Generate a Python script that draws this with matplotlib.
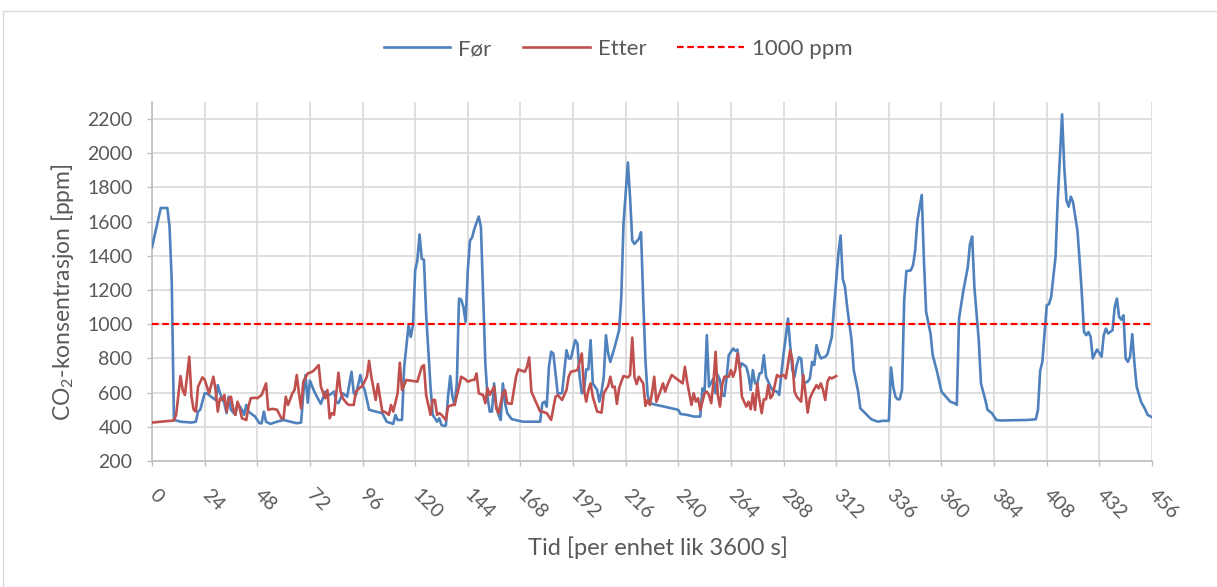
import matplotlib.pyplot as plt
from matplotlib.patches import Rectangle

# Hourly CO2 readings (hour index, ppm) before and after the change
for_hours = [
    0, 4, 7, 8, 9, 10, 11, 13, 18, 20, 21, 22,
    24, 25, 27, 29, 30, 31, 33, 34, 35, 36, 38, 39,
    41, 42, 43, 44, 47, 49, 50, 51, 52, 54, 57, 60,
    63, 66, 68, 69, 70, 71, 72, 74, 76, 77, 79, 81,
    83, 84, 85, 87, 89, 91, 92, 93, 95, 96, 97, 99,
    102, 105, 107, 110, 111, 112, 114, 115, 117, 118, 119, 120,
    121, 122, 123, 124, 125, 127, 128, 129, 130, 131, 132, 133,
    134, 135, 136, 137, 138, 139, 140, 141, 142, 143, 144, 145,
    146, 147, 149, 150, 152, 153, 154, 155, 156, 157, 158, 159,
    160, 161, 162, 164, 169, 177, 178, 179, 180, 181, 182, 183,
    185, 187, 189, 190, 191, 193, 194, 195, 196, 197, 198, 199,
    200, 201, 202, 203, 204, 205, 206, 207, 208, 209, 211, 212,
    213, 214, 215, 217, 218, 219, 220, 222, 223, 224, 225, 226,
    227, 230, 235, 240, 241, 244, 247, 250, 251, 252, 253, 254,
    256, 257, 258, 259, 260, 261, 262, 263, 265, 266, 267, 268,
    269, 271, 272, 273, 274, 275, 276, 277, 278, 279, 280, 282,
    283, 285, 286, 287, 288, 289, 290, 291, 292, 293, 294, 295,
    296, 297, 299, 300, 301, 302, 303, 304, 305, 307, 308, 310,
    311, 313, 314, 315, 316, 317, 319, 320, 322, 323, 326, 328,
    331, 333, 336, 337, 338, 339, 340, 341, 342, 343, 344, 346,
    347, 348, 349, 351, 352, 353, 355, 356, 358, 360, 362, 364,
    366, 367, 368, 370, 372, 373, 374, 375, 377, 378, 380, 381,
    383, 385, 387, 399, 403, 404, 405, 406, 407, 408, 409, 410,
    412, 413, 415, 416, 417, 418, 419, 420, 422, 423, 424, 425,
    426, 427, 428, 429, 430, 431, 433, 434, 435, 436, 438, 439,
    440, 441, 442, 443, 444, 445, 446, 447, 448, 449, 451, 453,
    454, 456,
]
for_ppm = [
    1450, 1680, 1680, 1570, 1250, 440, 437, 430, 425, 430, 489, 500,
    596, 596, 576, 557, 644, 596, 538, 480, 576, 500, 470, 538,
    500, 470, 528, 489, 460, 421, 421, 489, 430, 417, 430, 440,
    430, 421, 425, 596, 703, 541, 670, 606, 557, 534, 606, 586,
    606, 547, 538, 596, 576, 722, 596, 586, 703, 644, 615, 500,
    489, 480, 430, 417, 470, 440, 440, 751, 994, 926, 994, 1315,
    1373, 1525, 1383, 1377, 1062, 635, 470, 450, 430, 450, 411, 405,
    407, 576, 697, 576, 528, 654, 1150, 1144, 1101, 1014, 1315, 1490,
    1509, 1558, 1630, 1567, 771, 576, 489, 489, 654, 518, 470, 440,
    654, 538, 480, 445, 430, 430, 538, 547, 518, 751, 839, 829,
    596, 596, 848, 800, 800, 907, 887, 693, 596, 615, 736, 736,
    907, 654, 635, 615, 547, 606, 693, 936, 829, 780, 868, 916,
    965, 1159, 1587, 1946, 1742, 1490, 1470, 1499, 1538, 1140, 790, 586,
    538, 528, 514, 499, 475, 470, 460, 460, 625, 606, 936, 635,
    683, 596, 703, 674, 586, 580, 683, 819, 858, 844, 852, 742,
    771, 751, 703, 615, 732, 654, 654, 712, 716, 819, 693, 635,
    615, 606, 586, 712, 829, 926, 1033, 878, 732, 693, 761, 806,
    800, 654, 664, 683, 780, 761, 878, 829, 800, 810, 825, 926,
    1101, 1412, 1519, 1266, 1218, 1101, 907, 732, 606, 508, 470, 444,
    430, 435, 435, 747, 635, 576, 561, 561, 615, 1140, 1311, 1315,
    1344, 1431, 1606, 1756, 1373, 1072, 946, 819, 722, 606, 576, 547,
    538, 528, 1033, 1198, 1334, 1470, 1513, 1218, 907, 654, 557, 499,
    480, 440, 437, 440, 444, 499, 728, 780, 946, 1111, 1117, 1159,
    1392, 1723, 2228, 1917, 1723, 1688, 1746, 1713, 1548, 1373, 1179, 955,
    936, 955, 926, 800, 829, 852, 810, 936, 975, 946, 965, 1101,
    1150, 1043, 1027, 1052, 800, 780, 810, 942, 771, 635, 547, 499,
    470, 456,
]

etter_hours = [
    0, 10, 11, 13, 14, 15, 17, 18, 19, 20, 21, 23,
    24, 26, 28, 29, 30, 31, 32, 33, 34, 35, 36, 37,
    38, 39, 40, 41, 43, 44, 45, 47, 48, 50, 52, 53,
    55, 57, 59, 60, 61, 62, 63, 64, 65, 66, 67, 68,
    69, 71, 73, 74, 76, 77, 79, 80, 81, 82, 83, 85,
    86, 87, 89, 90, 92, 93, 95, 96, 98, 99, 100, 102,
    103, 105, 106, 108, 109, 110, 112, 113, 114, 116, 118, 121,
    123, 124, 125, 127, 128, 129, 130, 131, 132, 134, 135, 137,
    138, 140, 141, 143, 144, 146, 147, 148, 149, 151, 152, 153,
    154, 156, 157, 158, 160, 161, 162, 164, 166, 167, 170, 171,
    172, 173, 175, 177, 178, 180, 182, 184, 185, 187, 189, 190,
    191, 193, 194, 196, 197, 198, 199, 200, 201, 203, 205, 206,
    208, 209, 210, 211, 212, 213, 214, 215, 217, 218, 219, 220,
    221, 222, 224, 225, 226, 227, 228, 229, 230, 232, 233, 234,
    235, 237, 239, 241, 242, 243, 244, 246, 247, 248, 249, 250,
    252, 253, 254, 255, 256, 257, 258, 259, 260, 261, 263, 264,
    265, 266, 267, 268, 269, 271, 272, 273, 274, 275, 276, 277,
    278, 279, 280, 281, 282, 283, 285, 286, 288, 289, 291, 292,
    293, 294, 296, 297, 298, 299, 300, 301, 303, 304, 305, 306,
    307, 308, 309, 310, 312,
]
etter_ppm = [
    425, 437, 470, 697, 615, 586, 810, 576, 500, 489, 635, 689,
    677, 596, 693, 615, 489, 567, 557, 586, 489, 567, 576, 508,
    470, 547, 508, 450, 440, 518, 567, 570, 567, 586, 654, 500,
    505, 500, 450, 450, 576, 528, 560, 596, 615, 703, 596, 508,
    664, 712, 722, 732, 761, 635, 567, 615, 450, 480, 470, 716,
    606, 567, 534, 528, 528, 606, 631, 639, 693, 786, 693, 557,
    650, 489, 489, 470, 528, 489, 596, 775, 615, 674, 670, 664,
    751, 761, 586, 470, 557, 557, 470, 480, 470, 440, 518, 528,
    528, 635, 693, 677, 664, 674, 674, 712, 596, 586, 538, 625,
    586, 635, 508, 480, 596, 615, 538, 534, 693, 736, 722, 751,
    806, 606, 547, 489, 489, 480, 440, 576, 586, 557, 615, 693,
    722, 728, 732, 829, 615, 547, 615, 654, 576, 489, 483, 596,
    639, 693, 631, 635, 534, 625, 664, 697, 689, 703, 922, 693,
    650, 693, 654, 522, 557, 528, 596, 693, 547, 615, 654, 606,
    644, 703, 683, 664, 654, 751, 664, 528, 596, 547, 567, 499,
    596, 606, 586, 538, 654, 839, 586, 518, 644, 693, 693, 732,
    693, 732, 829, 751, 576, 518, 547, 503, 596, 499, 654, 557,
    480, 561, 561, 644, 567, 586, 703, 693, 703, 683, 848, 790,
    606, 576, 547, 703, 596, 483, 567, 596, 644, 625, 654, 615,
    557, 664, 689, 683, 697,
]

limit_ppm = 1000
x_ticks = list(range(0, 457, 24))
y_ticks = list(range(200, 2201, 200))

plt.rcParams['font.family'] = ['Lato', 'DejaVu Sans']
plt.rcParams['mathtext.default'] = 'regular'

text_color = '#595959'
grid_color = '#D9D9D9'

fig = plt.figure(figsize=(12.17, 5.87), dpi=100)
ax = fig.add_axes([152 / 1217, 1 - 461 / 587, 1000 / 1217, 359 / 587])

ax.plot(for_hours, for_ppm, color='#4F81BD', lw=1.9, label='Før', zorder=3)
ax.plot(etter_hours, etter_ppm, color='#C0504D', lw=1.9, label='Etter', zorder=4)
ax.axhline(limit_ppm, color='#FF0000', lw=1.6, dashes=(3.0, 1.6),
           label='1000 ppm', zorder=5)

ax.set_xlim(0, 456)
ax.set_ylim(200, 2300)
ax.set_xticks(x_ticks)
ax.set_yticks(y_ticks)
ax.grid(color=grid_color, lw=1.2)
ax.set_axisbelow(True)

for side in ['top', 'right']:
    ax.spines[side].set_visible(False)
for side in ['left', 'bottom']:
    ax.spines[side].set_color('#BFBFBF')
    ax.spines[side].set_linewidth(1.2)

ax.tick_params(axis='both', color='#BFBFBF', length=3.6, width=1.0,
               labelcolor=text_color, labelsize=14)
ax.tick_params(axis='y', pad=10.5)
ax.tick_params(axis='x', pad=19)
for lbl in ax.get_xticklabels():
    lbl.set_rotation(-45)
    lbl.set_ha('left')
    lbl.set_va('center')
    lbl.set_rotation_mode('anchor')

ax.set_xlabel('Tid [per enhet lik 3600 s]', fontsize=17, color=text_color)
ax.xaxis.set_label_coords(0.506, -0.242)
ax.xaxis.label.set_va('center')
ax.set_ylabel('CO$_2$-konsentrasjon [ppm]', fontsize=16.5, color=text_color)
ax.yaxis.set_label_coords(-0.09, 0.47)
ax.yaxis.label.set_va('center')

ax.legend(loc='center', bbox_to_anchor=(0.508, 0.9165),
          bbox_transform=fig.transFigure, ncol=3, frameon=False,
          fontsize=16, handlelength=3.0, handletextpad=0.36,
          columnspacing=1.4, labelcolor=text_color)

# light frame around the chart area
fig.add_artist(Rectangle((3 / 1217, -0.05), 1.1, 1.05 - 11 / 587,
                         transform=fig.transFigure, fill=False,
                         edgecolor=grid_color, lw=1.0, clip_on=False))

fig.savefig('out.png', dpi=100)
